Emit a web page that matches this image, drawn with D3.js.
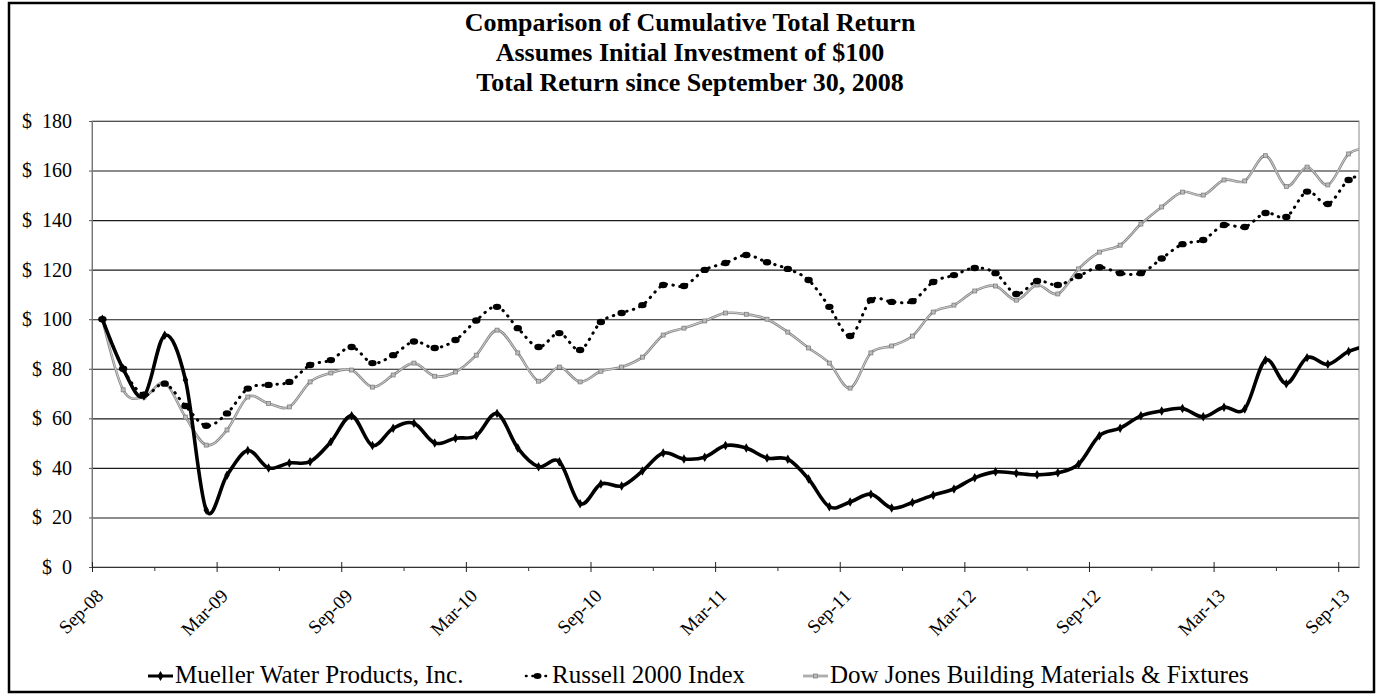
<!DOCTYPE html>
<html>
<head>
<meta charset="utf-8">
<script src="https://cdn.jsdelivr.net/npm/d3@7"></script>
<style>
  body { margin: 0; background: #fff; }
  text { font-family: "Liberation Serif", "Times New Roman", serif; fill: #000; }
</style>
</head>
<body>
<script>
// Month categories, Sep-08 .. Oct-13
const months = ["Sep-08","Oct-08","Nov-08","Dec-08","Jan-09","Feb-09","Mar-09","Apr-09","May-09","Jun-09","Jul-09","Aug-09",
  "Sep-09","Oct-09","Nov-09","Dec-09","Jan-10","Feb-10","Mar-10","Apr-10","May-10","Jun-10","Jul-10","Aug-10",
  "Sep-10","Oct-10","Nov-10","Dec-10","Jan-11","Feb-11","Mar-11","Apr-11","May-11","Jun-11","Jul-11","Aug-11",
  "Sep-11","Oct-11","Nov-11","Dec-11","Jan-12","Feb-12","Mar-12","Apr-12","May-12","Jun-12","Jul-12","Aug-12",
  "Sep-12","Oct-12","Nov-12","Dec-12","Jan-13","Feb-13","Mar-13","Apr-13","May-13","Jun-13","Jul-13","Aug-13",
  "Sep-13","Oct-13"];

const mueller = [100, 80, 69, 93.5, 75.5, 23, 37, 47, 40, 42, 42.5, 50.5,
  61, 49, 56, 58, 50, 52, 53, 62, 48, 40.5, 42.5, 25.5,
  33.5, 32.7, 38.7, 46, 43.6, 44.3, 49, 48, 44, 43.5, 35.5, 24.3,
  26.2, 29.4, 23.8, 26, 29, 31.5, 36, 38.4, 37.8, 37.2, 38, 41.5,
  53, 56, 61, 63, 64, 60.6, 64.5, 63.8, 83.5, 74, 84.5, 81.8,
  87, 89.5];

const russell = [100, 80, 69.5, 74, 65, 57, 62, 72, 73.5, 74.7, 81.5, 83.5,
  88.8, 82.3, 85.5, 91, 88.4, 91.6, 99.5, 105, 96.4, 88.8, 94.4, 87.6,
  98.9, 102.5, 105.7, 113.8, 113.4, 119.9, 122.7, 125.9, 123, 120.3, 115.8, 105,
  93.2, 107.7, 107, 107.3, 115, 117.8, 120.7, 118.6, 110.2, 115.4, 113.8, 117.4,
  121, 118.6, 118.6, 124.5, 130.3, 132, 138, 137.2, 142.9, 141.3, 151.5, 146.5,
  156.2, 158.5];

const dowJones = [100, 71.5, 68.6, 74.3, 60.5, 49.2, 55.3, 68.6, 66, 64.6, 74.7, 78.3,
  79.5, 72.6, 77.5, 82.3, 77, 78.7, 85.5, 95.6, 86.4, 75, 80.7, 74.7,
  79, 80.7, 84.7, 93.6, 96.4, 99.3, 102.5, 102, 100, 94.8, 88.4, 82.3,
  72.2, 86.4, 89.2, 93.2, 102.9, 105.7, 111.4, 113.4, 107.7, 113.8, 110.2, 120.3,
  127.1, 129.9, 138.4, 145.3, 151.3, 150.1, 156.2, 155.8, 166, 153.6, 161.4, 154.2,
  166.7, 169];

const tickLabels = ["Sep-08","Mar-09","Sep-09","Mar-10","Sep-10","Mar-11","Sep-11","Mar-12","Sep-12","Mar-13","Sep-13"];
const yTicks = [0, 20, 40, 60, 80, 100, 120, 140, 160, 180];
const seriesNames = ["Mueller Water Products, Inc.", "Russell 2000 Index", "Dow Jones Building Materials & Fixtures"];
const titleLines = ["Comparison of Cumulative Total Return", "Assumes Initial Investment of $100", "Total Return since September 30, 2008"];

const W = 1381, H = 696;
const plotLeft = 92, plotRight = 1359, plotTop = 121, plotBottom = 567;

const svg = d3.select("body").append("svg")
  .attr("width", W).attr("height", H);

// outer frame
svg.append("rect")
  .attr("x", 9).attr("y", 3).attr("width", 1365).attr("height", 689)
  .attr("fill", "none").attr("stroke", "#000").attr("stroke-width", 2.5);

// title
svg.selectAll(".title")
  .data(titleLines)
  .enter().append("text")
  .attr("class", "title")
  .attr("x", 690).attr("y", (d, i) => 31 + i * 30)
  .attr("text-anchor", "middle")
  .style("font-weight", "bold").style("font-size", "26px")
  .text(d => d);

// scales: months are bands of one unit, points sit in the middle
const x = d3.scaleLinear().domain([0, 61]).range([plotLeft, plotRight]);
const y = d3.scaleLinear().domain([0, 180]).range([plotBottom, plotTop]);

// gridlines
svg.append("g")
  .attr("transform", "translate(" + plotLeft + ",0)")
  .call(d3.axisLeft(y).tickValues(yTicks).tickSize(-(plotRight - plotLeft)).tickFormat(""))
  .call(g => g.select(".domain").remove())
  .call(g => g.selectAll("line").attr("stroke", "#1a1a1a").attr("stroke-width", 1.1));

// plot area border
svg.append("rect")
  .attr("x", plotLeft).attr("y", plotTop).attr("width", plotRight - plotLeft).attr("height", plotBottom - plotTop)
  .attr("fill", "none").attr("stroke", "#888").attr("stroke-width", 1);

// y axis
svg.append("g")
  .attr("transform", "translate(" + plotLeft + ",0)")
  .call(d3.axisLeft(y).tickValues(yTicks).tickSize(3).tickPadding(17)
    .tickFormat(d => "$\u2002" + d))
  .call(g => g.select(".domain").attr("stroke", "#777"))
  .call(g => g.selectAll("line").attr("stroke", "#555"))
  .call(g => g.selectAll("text").style("font-size", "20px").style("font-family", "Liberation Serif"));

// x axis: major ticks every 6 months, minor every 3
const majorTicks = tickLabels.map((d, i) => i * 6);
const minorTicks = majorTicks.slice(0, -1).map(d => d + 3);

svg.append("g")
  .attr("transform", "translate(0," + plotBottom + ")")
  .call(d3.axisBottom(x).tickValues(minorTicks).tickSize(4).tickFormat(""))
  .call(g => g.select(".domain").remove())
  .call(g => g.selectAll("line").attr("stroke", "#333"));

const xAxis = svg.append("g")
  .attr("transform", "translate(0," + plotBottom + ")")
  .call(d3.axisBottom(x).tickValues(majorTicks).tickSizeInner(5).tickSizeOuter(0)
    .tickFormat((d, i) => tickLabels[i]));
xAxis.select(".domain").attr("stroke", "#333");
xAxis.selectAll(".tick line").attr("y1", -5).attr("stroke", "#222");
xAxis.selectAll(".tick text")
  .style("font-size", "19px").style("font-family", "Liberation Serif")
  .attr("text-anchor", "end")
  .attr("dy", 0)
  .attr("y", 0)
  .attr("transform", "translate(12,30) rotate(-45)");

// clip to plot area
svg.append("clipPath").attr("id", "plotClip")
  .append("rect").attr("x", plotLeft).attr("y", plotTop - 5)
  .attr("width", plotRight - plotLeft).attr("height", plotBottom - plotTop + 10);

const plot = svg.append("g").attr("clip-path", "url(#plotClip)");

const line = d3.line()
  .x((d, i) => x(i + 0.5))
  .y(d => y(d))
  .curve(d3.curveCardinal);

// Dow Jones: thin grey double line with small squares
plot.append("path").datum(dowJones)
  .attr("d", line).attr("fill", "none")
  .attr("stroke", "#8a8a8a").attr("stroke-width", 2.6);
plot.append("path").datum(dowJones)
  .attr("d", line).attr("fill", "none")
  .attr("stroke", "#dadada").attr("stroke-width", 0.9);
plot.selectAll(".dowMark").data(dowJones).enter().append("rect")
  .attr("class", "dowMark")
  .attr("x", (d, i) => x(i + 0.5) - 2).attr("y", d => y(d) - 2)
  .attr("width", 4).attr("height", 4)
  .attr("fill", "#bbb").attr("stroke", "#777").attr("stroke-width", 0.7);

// Russell: dotted black line with round markers
plot.append("path").datum(russell)
  .attr("d", line).attr("fill", "none")
  .attr("stroke", "#000").attr("stroke-width", 3)
  .attr("stroke-dasharray", "0.5 6.5").attr("stroke-linecap", "round");
plot.selectAll(".rusMark").data(russell).enter().append("ellipse")
  .attr("class", "rusMark")
  .attr("cx", (d, i) => x(i + 0.5)).attr("cy", d => y(d))
  .attr("rx", 4.2).attr("ry", 3.2)
  .attr("fill", "#000");

// Mueller: thick black line with diamonds
plot.append("path").datum(mueller)
  .attr("d", line).attr("fill", "none")
  .attr("stroke", "#000").attr("stroke-width", 3.6)
  .attr("stroke-linejoin", "round");
plot.selectAll(".muMark").data(mueller).enter().append("path")
  .attr("class", "muMark")
  .attr("transform", (d, i) => "translate(" + x(i + 0.5) + "," + y(d) + ")")
  .attr("d", d3.symbol(d3.symbolDiamond, 26))
  .attr("fill", "#000");

// legend
const legendX = [148, 525, 803];
const legend = svg.append("g").attr("transform", "translate(0,676)");
seriesNames.forEach((name, i) => {
  const lx = legendX[i];
  const g = legend.append("g");
  if (i === 0) {
    g.append("line").attr("x1", lx).attr("x2", lx + 25).attr("y1", 0).attr("y2", 0)
      .attr("stroke", "#000").attr("stroke-width", 3);
    g.append("path").attr("transform", "translate(" + (lx + 12.5) + ",0)")
      .attr("d", d3.symbol(d3.symbolDiamond, 30)).attr("fill", "#000");
  } else if (i === 1) {
    g.append("line").attr("x1", lx + 1).attr("x2", lx + 25).attr("y1", 0).attr("y2", 0)
      .attr("stroke", "#000").attr("stroke-width", 2.6)
      .attr("stroke-dasharray", "0.5 6").attr("stroke-linecap", "round");
    g.append("ellipse").attr("cx", lx + 12.5).attr("cy", 0).attr("rx", 4).attr("ry", 3).attr("fill", "#000");
  } else {
    g.append("line").attr("x1", lx).attr("x2", lx + 25).attr("y1", 0).attr("y2", 0)
      .attr("stroke", "#8a8a8a").attr("stroke-width", 2.6);
    g.append("line").attr("x1", lx).attr("x2", lx + 25).attr("y1", 0).attr("y2", 0)
      .attr("stroke", "#dadada").attr("stroke-width", 0.9);
    g.append("rect").attr("x", lx + 10.5).attr("y", -2).attr("width", 4).attr("height", 4)
      .attr("fill", "#bbb").attr("stroke", "#777").attr("stroke-width", 0.7);
  }
  g.append("text")
    .attr("x", lx + 27).attr("y", 7)
    .style("font-size", "25px")
    .text(name);
});
</script>
</body>
</html>
